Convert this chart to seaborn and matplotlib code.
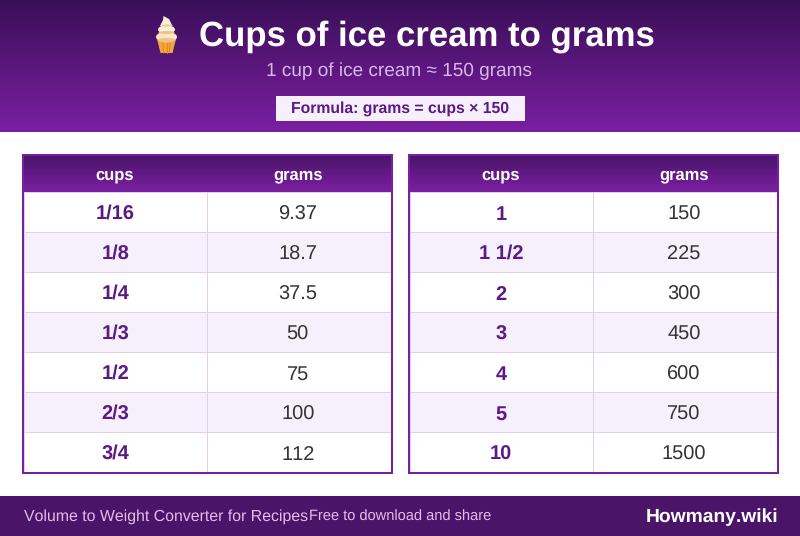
import numpy as np
import pandas as pd
import matplotlib
matplotlib.use("Agg")
import matplotlib.pyplot as plt
from matplotlib.colors import LinearSegmentedColormap, ListedColormap
from matplotlib.patches import Rectangle, Polygon, Ellipse
import seaborn as sns

sns.set_theme(style="white")
plt.rcParams['font.family'] = ['Liberation Sans', 'DejaVu Sans']
plt.rcParams['text.hinting'] = 'no_hinting'
plt.rcParams['text.hinting_factor'] = 8
plt.rcParams['text.kerning_factor'] = 6

left_cups = ["1/16", "1/8", "1/4", "1/3", "1/2", "2/3", "3/4"]
left_grams = ["9.37", "18.7", "37.5", "50", "75", "100", "112"]
right_cups = ["1", "1 1/2", "2", "3", "4", "5", "10"]
right_grams = ["150", "225", "300", "450", "600", "750", "1500"]
col_names = ["cups", "grams"]

title = "Cups of ice cream to grams"
subtitle = "1 cup of ice cream ≈ 150 grams"
formula = "Formula: grams = cups × 150"
foot_a = "Volume to Weight Converter for Recipes"
foot_b = "Free to download and share"
brand = "Howmany.wiki"

W, H = 800, 536
PX = 0.72
DARK = "#3a0f58"
MID = "#4a1569"
PURPLE = "#7b1fa2"
INK = "#5b1a85"
LINE = "#e0cfee"
ALT = "#f5f0fb"

fig = plt.figure(figsize=(8, 5.36), dpi=100, facecolor="white")
bg = fig.add_axes([0, 0, 1, 1])
bg.set_xlim(0, W); bg.set_ylim(H, 0); bg.axis("off")

def gradient(ax, x0, x1, y0, y1, c0, c1, z=1):
    cm = LinearSegmentedColormap.from_list("g", [c0, c1])
    ax.imshow(np.linspace(0, 1, 256)[:, None], cmap=cm, aspect="auto",
              extent=(x0, x1, y1, y0), zorder=z, interpolation="bilinear")
    ax.set_xlim(0, W); ax.set_ylim(H, 0)

gradient(bg, 0, W, 0, 132, DARK, PURPLE)
bg.add_patch(Rectangle((0, 496), W, 40, fc=MID, ec="none", zorder=1))

# soft-serve icon
bg.add_patch(Polygon([(157.5, 41), (175.5, 41), (172.5, 53), (160.5, 53)], fc="#f4a53a", ec="none", zorder=3))
for x in (163, 166.5, 170):
    bg.plot([x, x - (x - 166.5) * 0.2], [43, 53], color="#dc8a24", lw=0.7, zorder=4)
bg.add_patch(Ellipse((166.5, 37), 21, 10.5, fc="#fbe6c4", ec="none", zorder=5))
bg.add_patch(Ellipse((166.5, 40), 19, 4, fc="#e9c48e", ec="none", zorder=5))
bg.add_patch(Ellipse((166.5, 29.5), 17, 8.5, fc="#fdeed6", ec="none", zorder=6))
bg.add_patch(Ellipse((166.5, 32.5), 16, 3, fc="#e9c48e", ec="none", zorder=6))
bg.add_patch(Polygon([(160, 26), (163, 20), (163.5, 16), (169, 19), (172.5, 26)], fc="#fdeed6", ec="none", zorder=6))
bg.add_patch(Ellipse((167, 25.5), 11, 2.2, fc="#eccb9b", ec="none", zorder=7))

bg.text(427, 46, title, color="white", fontsize=34.8 * PX, fontweight="bold", ha="center", va="baseline", zorder=6)
bg.text(399, 76.5, subtitle, color="#d9b8e6", fontsize=19 * PX, ha="center", va="baseline", zorder=6)
bg.add_patch(Rectangle((276, 96), 249, 25, fc=ALT, ec="none", zorder=5))
bg.text(400, 113, formula, color=INK, fontsize=15.7 * PX, fontweight="bold", ha="center", va="baseline", zorder=6)

bg.text(24, 521, foot_a, color="#e1bee7", fontsize=15.9 * PX, ha="left", va="baseline", zorder=6)
bg.text(309, 521, foot_b, color="#e1bee7", fontsize=14.6 * PX, ha="left", va="baseline", zorder=6)
bg.text(778.5, 522, brand, color="white", fontsize=19.3 * PX, fontweight="bold", ha="right", va="baseline", zorder=6)

def table(x0, cups, grams):
    x1 = x0 + 371
    y0, y1 = 154, 474
    bg.add_patch(Rectangle((x0 + 1, y0 + 1), 369, 318, fc="white", ec=PURPLE, lw=2 * PX, zorder=2))
    gradient(bg, x0 + 2, x1 - 2, y0 + 2, 192, MID, PURPLE, z=3)
    bg.text(x0 + 93, 179.5, col_names[0], color="white", fontsize=16.5 * PX, fontweight="bold",
            ha="center", va="baseline", zorder=6)
    bg.text(x0 + 276, 179.5, col_names[1], color="white", fontsize=16.5 * PX, fontweight="bold",
            ha="center", va="baseline", zorder=6)
    ax = fig.add_axes([(x0 + 1.5) / W, 1 - 472 / H, 367 / W, 280 / H])
    frame = pd.DataFrame({col_names[0]: cups, col_names[1]: grams})
    stripes = np.array([[i % 2, i % 2] for i in range(len(frame))])
    sns.heatmap(stripes, ax=ax, cbar=False, cmap=ListedColormap(["white", ALT]),
                annot=frame.values, fmt="", linewidths=PX, linecolor=LINE,
                xticklabels=False, yticklabels=False,
                annot_kws={"fontsize": 20 * PX})
    for i, t in enumerate(ax.texts):
        t.set_va("baseline")
        if i % 2 == 0:
            drop = 6.2 if "/" in t.get_text() else 7.6
            t.set_y(i // 2 + 0.5 + drop / 40)
            t.set_fontweight("bold"); t.set_color(INK)
        else:
            t.set_y(i // 2 + 0.5 + 7.9 / 40)
            t.set_color("#333333")
            t.set_x(1.5 - 1 / 183.5)
    ax.set_xlim(0, 2); ax.set_ylim(7, 0)
    ax.tick_params(length=0)
    for s in ax.spines.values():
        s.set_visible(False)

table(22, left_cups, left_grams)
table(408, right_cups, right_grams)

fig.savefig("out.png", dpi=100, facecolor="white")
